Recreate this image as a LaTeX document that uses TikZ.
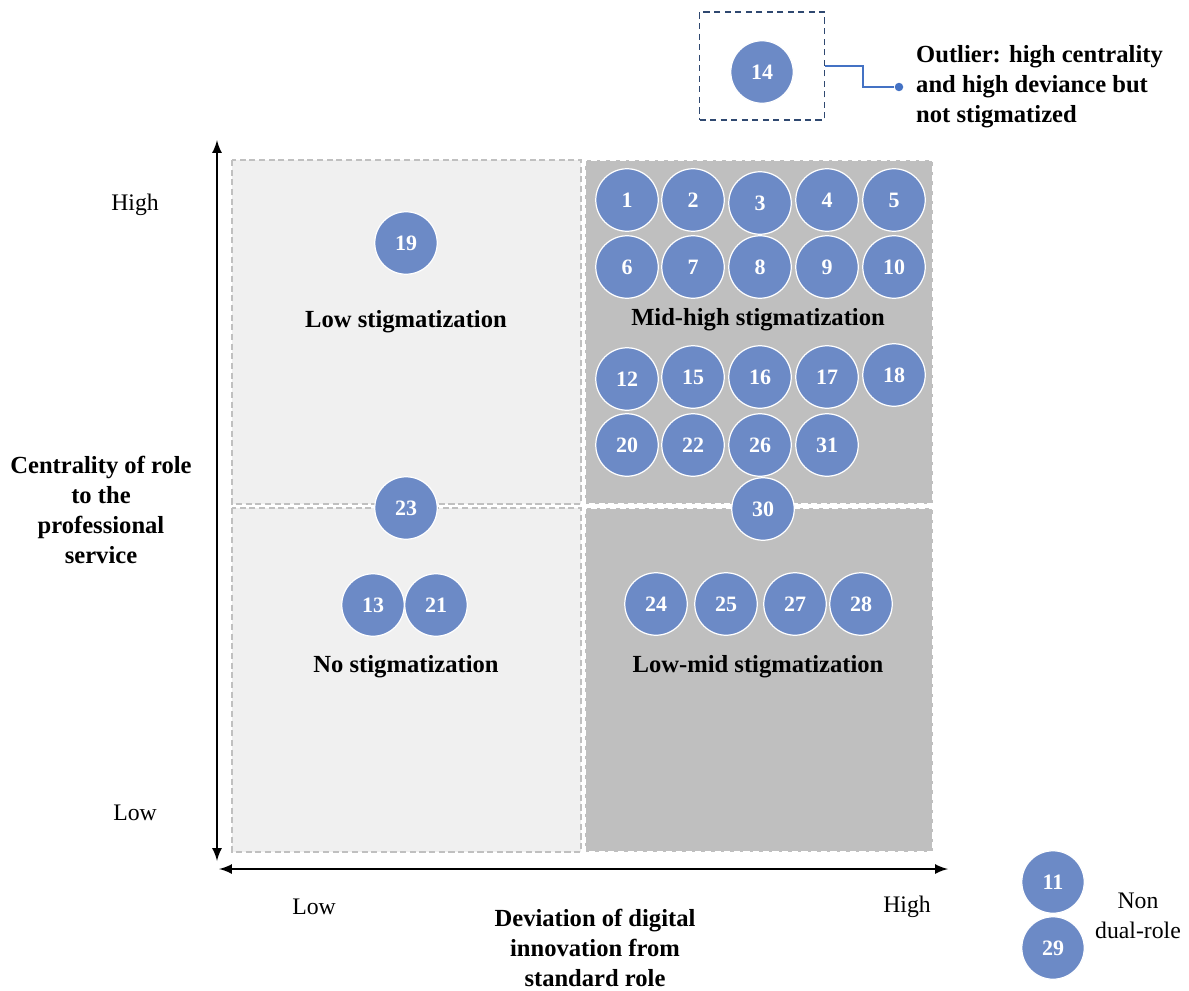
\documentclass[tikz,border=0pt]{standalone}
\usepackage{fontspec}
\setmainfont{Liberation Serif}
\definecolor{bleucas}{RGB}{108,138,198}
\definecolor{grisfonce}{RGB}{191,191,191}
\definecolor{grisclair}{RGB}{240,240,240}
\definecolor{grisbord}{RGB}{192,192,192}
\definecolor{bleucadre}{RGB}{47,72,112}
\definecolor{bleulien}{RGB}{68,114,196}

\begin{document}
\begin{tikzpicture}[x=0.02cm,y=-0.02cm]
	% Styles
	\tikzstyle{axe}=[<->,>=latex,line width=1.5pt]
	\tikzstyle{cas}=[circle,fill=bleucas,draw=white,line width=0.7pt,minimum size=1.25cm,inner sep=0pt,text=white,font=\fontsize{12.5}{14}\selectfont\bfseries]
	\tikzstyle{zoneclaire}=[fill=grisclair,draw=grisbord,line width=0.8pt,dash pattern=on 3.5pt off 2pt]
	\tikzstyle{zonefoncee}=[fill=grisfonce,draw=white,line width=0.8pt,dash pattern=on 3.5pt off 2pt]
	\tikzstyle{titre}=[font=\fontsize{14}{17}\selectfont\bfseries,align=center]
	\tikzstyle{graduation}=[font=\fontsize{13.5}{17}\selectfont]
	\tikzstyle{lien}=[bleulien,line width=0.6pt]
	% Colonnes et lignes
	\def\ColA{627}
	\def\ColB{693}
	\def\ColC{760}
	\def\ColD{827}
	\def\ColE{894}
	\def\LigA{200}
	\def\LigB{267}
	\def\LigC{377}
	\def\LigD{445}
	\useasboundingbox (0,0) rectangle (1189,990);
	% Quadrants
	\draw[zoneclaire] (232,160) rectangle (581,504);
	\draw[zoneclaire] (232,508) rectangle (581,852);
	\draw[zonefoncee] (585,160) rectangle (933,504);
	\draw[zonefoncee] (585,508) rectangle (933,852);
	% Axes
	\coordinate (yhaut) at (217,140);
	\coordinate (ybas) at (217,861);
	\coordinate (xgauche) at (219,869);
	\coordinate (xdroite) at (948,869);
	\draw[axe] (yhaut)--(ybas);
	\draw[axe] (xgauche)--(xdroite);
	\node[graduation] (yH) at (135,205) {High};
	\node[graduation] (yL) at (135,813) {Low};
	\node[graduation] (xL) at (314,907) {Low};
	\node[graduation] (xH) at (907,907) {High};
	\node[titre] (ytitre) at (101,510) {Centrality of role\\to the\\professional\\service};
	\node[titre] (xtitre) at (595,948) {Deviation of digital\\innovation from\\standard role};
	% Etiquettes des quadrants
	\node[titre] (Qa) at (406,322) {Low stigmatization};
	\node[titre] (Qb) at (758,320) {Mid-high stigmatization};
	\node[titre] (Qc) at (406,667) {No stigmatization};
	\node[titre] (Qd) at (758,667) {Low-mid stigmatization};
	% Cas : quadrant haut droit
	\node[cas] (C1) at (\ColA,\LigA) {1};
	\node[cas] (C2) at (\ColB,\LigA) {2};
	\node[cas] (C3) at (\ColC,{\LigA+3}) {3};
	\node[cas] (C4) at (\ColD,\LigA) {4};
	\node[cas] (C5) at (\ColE,\LigA) {5};
	\node[cas] (C6) at (\ColA,\LigB) {6};
	\node[cas] (C7) at (\ColB,\LigB) {7};
	\node[cas] (C8) at (\ColC,\LigB) {8};
	\node[cas] (C9) at (\ColD,\LigB) {9};
	\node[cas] (C10) at (\ColE,\LigB) {10};
	\node[cas] (C12) at (\ColA,{\LigC+2}) {12};
	\node[cas] (C15) at (\ColB,\LigC) {15};
	\node[cas] (C16) at (\ColC,\LigC) {16};
	\node[cas] (C17) at (\ColD,\LigC) {17};
	\node[cas] (C18) at (\ColE,{\LigC-2}) {18};
	\node[cas] (C20) at (\ColA,\LigD) {20};
	\node[cas] (C22) at (\ColB,\LigD) {22};
	\node[cas] (C26) at (\ColC,\LigD) {26};
	\node[cas] (C31) at (\ColD,\LigD) {31};
	\node[cas] (C30) at (763,509) {30};
	% Cas : quadrant bas droit
	\node[cas] (C24) at (656,604) {24};
	\node[cas] (C25) at (726,604) {25};
	\node[cas] (C27) at (795,604) {27};
	\node[cas] (C28) at (861,604) {28};
	% Cas : quadrants gauches
	\node[cas] (C19) at (406,243) {19};
	\node[cas] (C23) at (406,508) {23};
	\node[cas] (C13) at (373,605) {13};
	\node[cas] (C21) at (436,605) {21};
	% Hors role double
	\node[cas] (C11) at (1053,882) {11};
	\node[cas] (C29) at (1053,948) {29};
	\node[graduation,align=center] (nondual) at (1138,916) {Non\\dual-role};
	% Cas isole
	\node[draw=bleucadre,line width=1.1pt,dash pattern=on 3.5pt off 2.5pt,minimum width=2.5cm,minimum height=2.16cm] (cadre) at (762,66) {};
	\node[cas] (C14) at (762,72) {14};
	\node[circle,fill=bleulien,inner sep=0pt,minimum size=0.17cm] (point) at (899,87) {};
	\coordinate (coude) at (863,66);
	\draw[lien] (cadre.east)--(coude)|-(point);
	\node[titre,align=left,anchor=west] (outlier) at (910,87) {Outlier: high centrality\\and high deviance but\\not stigmatized};
\end{tikzpicture}
\end{document}
